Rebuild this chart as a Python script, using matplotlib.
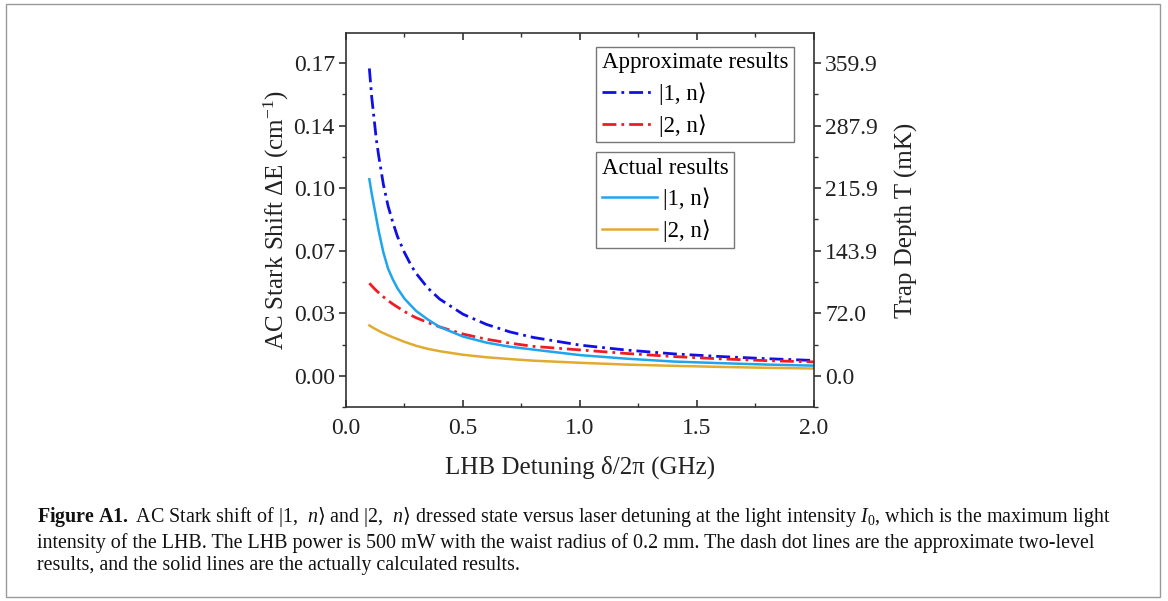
import matplotlib
matplotlib.use('Agg')
import matplotlib.pyplot as plt
from matplotlib.lines import Line2D
from matplotlib.patches import Rectangle
from matplotlib.ticker import FixedLocator, MultipleLocator

plt.rcParams['font.family'] = ['Liberation Serif', 'DejaVu Serif']
plt.rcParams['mathtext.fontset'] = 'custom'
plt.rcParams['mathtext.rm'] = 'Liberation Serif'
plt.rcParams['mathtext.it'] = 'Liberation Serif:italic'
plt.rcParams['mathtext.bf'] = 'Liberation Serif:bold'
plt.rcParams['mathtext.sf'] = 'DejaVu Serif'  # used only for the ket bracket

# detuning (GHz)
detuning = [0.10, 0.11, 0.12, 0.13, 0.14, 0.15, 0.16, 0.18, 0.20, 0.22, 0.25, 0.28,
            0.30, 0.35, 0.40, 0.50, 0.60, 0.70, 0.80, 1.00, 1.20, 1.40, 1.60, 1.80, 2.00]

# approximate two-level results (cm^-1)
approx_1n = [0.172, 0.156, 0.144, 0.132, 0.123, 0.115, 0.107, 0.095, 0.086, 0.078, 0.069, 0.0614,
             0.0573, 0.0491, 0.0430, 0.0345, 0.0288, 0.0246, 0.0215, 0.0172, 0.0144, 0.0123,
             0.0108, 0.0096, 0.0086]
approx_2n = [0.0518, 0.0504, 0.0490, 0.0477, 0.0465, 0.0453, 0.0442, 0.0421, 0.0402, 0.0385,
             0.0360, 0.0338, 0.0325, 0.0298, 0.0274, 0.0234, 0.0205, 0.0183, 0.0165, 0.0145,
             0.0125, 0.0108, 0.0095, 0.0085, 0.0078]

# actual results (cm^-1)
actual_1n = [0.110, 0.102, 0.095, 0.088, 0.081, 0.075, 0.069, 0.060, 0.0540, 0.0490, 0.0432,
             0.0390, 0.0363, 0.0315, 0.0274, 0.0220, 0.0186, 0.0163, 0.0147, 0.0116, 0.0096,
             0.0080, 0.0071, 0.0063, 0.0057]
actual_2n = [0.0282, 0.0274, 0.0266, 0.0259, 0.0252, 0.0245, 0.0239, 0.0227, 0.0216, 0.0206,
             0.0190, 0.0177, 0.0168, 0.0151, 0.0138, 0.0118, 0.0104, 0.0094, 0.0085, 0.0073,
             0.0063, 0.0056, 0.0050, 0.0045, 0.0041]

ytick_vals = [0.0, 0.035, 0.07, 0.105, 0.14, 0.175]
ytick_left = ['0.00', '0.03', '0.07', '0.10', '0.14', '0.17']
ytick_right = ['0.0', '72.0', '143.9', '215.9', '287.9', '359.9']
xtick_vals = [0, 0.5, 1.0, 1.5, 2.0]
xtick_labels = ['0.0', '0.5', '1.0', '1.5', '2.0']

c_blue = '#1010e6'
c_red = '#ee1c24'
c_cyan = '#1ea5ee'
c_gold = '#e3aa30'
dashdot = (0, (5.0, 1.8, 1.0, 1.8))
ink = '#222222'

fig = plt.figure(figsize=(11.68, 6.01), dpi=100)
ax = fig.add_axes([0.2962, 0.3223, 0.4007, 0.6233])

ax.plot(detuning, approx_1n, color=c_blue, lw=2.0, ls=dashdot)
ax.plot(detuning, approx_2n, color=c_red, lw=2.0, ls=dashdot)
ax.plot(detuning, actual_1n, color=c_cyan, lw=1.8)
ax.plot(detuning, actual_2n, color=c_gold, lw=1.8)

ax.set_xlim(0, 2.0)
ax.set_ylim(-0.0176, 0.192)
ax.set_xticks(xtick_vals)
ax.set_xticklabels(xtick_labels)
ax.xaxis.set_minor_locator(MultipleLocator(0.25))
ax.yaxis.set_major_locator(FixedLocator(ytick_vals))
ax.yaxis.set_minor_locator(MultipleLocator(0.0175))
ax.set_yticklabels(ytick_left)

for sp in ax.spines.values():
    sp.set_linewidth(1.2)
    sp.set_color('#333333')

ax.tick_params(axis='x', which='both', direction='in', top=True, labelsize=17,
               colors='#333333', labelcolor=ink, pad=8)
ax.tick_params(axis='x', which='major', length=5, width=1.2)
ax.tick_params(axis='x', which='minor', length=3, width=1.0)
ax.tick_params(axis='y', which='both', direction='out', right=False, labelsize=17,
               colors='#333333', labelcolor=ink, pad=3)
ax.tick_params(axis='y', which='major', length=5, width=1.2)
ax.tick_params(axis='y', which='minor', length=3, width=1.0)

ax2 = ax.twinx()
ax2.set_ylim(ax.get_ylim())
ax2.yaxis.set_major_locator(FixedLocator(ytick_vals))
ax2.yaxis.set_minor_locator(MultipleLocator(0.0175))
ax2.set_yticklabels(ytick_right)
ax2.tick_params(axis='y', which='both', direction='out', labelsize=17,
                colors='#333333', labelcolor=ink, pad=3)
ax2.tick_params(axis='y', which='major', length=5, width=1.2)
ax2.tick_params(axis='y', which='minor', length=3, width=1.0)
for sp in ax2.spines.values():
    sp.set_visible(False)

ax.set_xlabel('LHB Detuning δ/2π (GHz)', fontsize=18, color=ink, labelpad=12)
ax.set_ylabel('AC Stark Shift ΔE (cm$^{-1}$)', fontsize=18, color=ink, labelpad=2)
ax2.set_ylabel('Trap Depth T (mK)', fontsize=18, color=ink, labelpad=12)

ket1 = '|1, n\u27e9'
ket2 = '|2, n\u27e9'
h1 = [Line2D([], [], color=c_blue, lw=2.0, ls=dashdot),
      Line2D([], [], color=c_red, lw=2.0, ls=dashdot)]
h2 = [Line2D([], [], color=c_cyan, lw=1.8),
      Line2D([], [], color=c_gold, lw=1.8)]
leg_kw = dict(loc='upper left', fontsize=16.5, title_fontsize=16.5, alignment='left',
              frameon=True, fancybox=False, framealpha=1, edgecolor='#777777',
              borderaxespad=0, borderpad=0.25, handletextpad=0.3, labelspacing=0.4)
leg1 = ax2.legend(h1, [ket1, ket2], title='Approximate results', handlelength=2.2,
                  bbox_to_anchor=(0.534, 0.963), **leg_kw)
leg1.get_frame().set_linewidth(1.0)
ax2.add_artist(leg1)
leg2 = ax2.legend(h2, [ket1, ket2], title='Actual results', handlelength=2.4,
                  bbox_to_anchor=(0.534, 0.682), **leg_kw)
leg2.get_frame().set_linewidth(1.0)

caption = ('$\\mathbf{Figure\\ A1.}$ AC Stark shift of |1,  $n\\mathsf{\u27e9}$ and |2,  $n\\mathsf{\u27e9}$ '
           'dressed state versus laser detuning '
           'at the light intensity $I_0$, which is the maximum light\n'
           'intensity of the LHB. The LHB power is 500 mW with the waist radius of 0.2 mm. '
           'The dash dot lines are the approximate two-level\n'
           'results, and the solid lines are the actually calculated results.')
fig.text(37 / 1168, 1 - 540 / 601, caption, fontsize=14.4, color='#111111', ha='left',
         va='center', linespacing=1.25)

fig.patches.append(Rectangle((6 / 1168, 4 / 601), 1154 / 1168, 593 / 601,
                             transform=fig.transFigure, fill=False,
                             edgecolor='#999999', lw=1.0))

fig.savefig('out.png', dpi=100)
plt.close(fig)
